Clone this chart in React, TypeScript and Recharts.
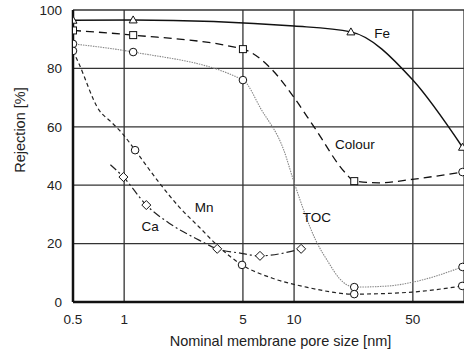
import {
  ComposedChart,
  Line,
  Scatter,
  XAxis,
  YAxis,
  CartesianGrid,
  ReferenceDot,
} from "recharts";

type Pt = { x: number; y: number };

// curve paths
const feCurve: Pt[] = [
  { x: 0.5, y: 96.5 },
  { x: 1.13, y: 96.6 },
  { x: 10, y: 94.5 },
  { x: 21.6, y: 92.5 },
  { x: 50, y: 76 },
  { x: 98, y: 53 },
];
const colourCurve: Pt[] = [
  { x: 0.5, y: 93 },
  { x: 1.13, y: 91.4 },
  { x: 5, y: 86.6 },
  { x: 7.3, y: 80 },
  { x: 10, y: 70 },
  { x: 13.1, y: 60 },
  { x: 20.2, y: 44 },
  { x: 22.6, y: 41.4 },
  { x: 31.6, y: 40.8 },
  { x: 49.5, y: 42 },
  { x: 98, y: 44.5 },
];
const tocCurve: Pt[] = [
  { x: 0.5, y: 88.4 },
  { x: 1.13, y: 85.6 },
  { x: 5, y: 76 },
  { x: 6.4, y: 66 },
  { x: 8.7, y: 52 },
  { x: 10, y: 41 },
  { x: 13.4, y: 21.2 },
  { x: 16, y: 13.4 },
  { x: 18.4, y: 8.2 },
  { x: 22.6, y: 5.1 },
  { x: 36, y: 5.5 },
  { x: 50, y: 6.8 },
  { x: 98, y: 12 },
];
const mnCurve: Pt[] = [
  { x: 0.5, y: 86 },
  { x: 0.54, y: 81.8 },
  { x: 0.71, y: 65.8 },
  { x: 0.84, y: 61.6 },
  { x: 0.97, y: 57.9 },
  { x: 1.16, y: 52 },
  { x: 1.61, y: 40.8 },
  { x: 2.11, y: 32.5 },
  { x: 2.76, y: 25.7 },
  { x: 3.62, y: 18.8 },
  { x: 4.94, y: 12.7 },
  { x: 7.4, y: 8.2 },
  { x: 11.8, y: 5.1 },
  { x: 22.6, y: 2.7 },
  { x: 49.5, y: 3.4 },
  { x: 97.6, y: 5.5 },
];
const caCurve: Pt[] = [
  { x: 0.83, y: 47 },
  { x: 0.99, y: 42.8 },
  { x: 1.35, y: 33.2 },
  { x: 1.84, y: 27 },
  { x: 2.76, y: 21.2 },
  { x: 3.53, y: 18.2 },
  { x: 4.74, y: 16.8 },
  { x: 6.3, y: 15.8 },
  { x: 11, y: 18.2 },
];

// measured points (markers)
const feMarks: Pt[] = [
  { x: 0.5, y: 96.5 },
  { x: 1.13, y: 96.6 },
  { x: 21.6, y: 92.5 },
  { x: 98, y: 53 },
];
const colourMarks: Pt[] = [
  { x: 0.5, y: 93 },
  { x: 1.13, y: 91.4 },
  { x: 5, y: 86.6 },
  { x: 22.6, y: 41.4 },
];
const colourEndMarks: Pt[] = [{ x: 98, y: 44.5 }];
const tocMarks: Pt[] = [
  { x: 0.5, y: 88.4 },
  { x: 1.13, y: 85.6 },
  { x: 5, y: 76 },
  { x: 22.6, y: 5.1 },
  { x: 98, y: 12 },
];
const mnMarks: Pt[] = [
  { x: 0.5, y: 86 },
  { x: 1.16, y: 52 },
  { x: 4.94, y: 12.7 },
  { x: 22.6, y: 2.7 },
  { x: 97.6, y: 5.5 },
];
const caMarks: Pt[] = [
  { x: 0.99, y: 42.8 },
  { x: 1.35, y: 33.2 },
  { x: 3.53, y: 18.2 },
  { x: 6.3, y: 15.8 },
  { x: 11, y: 18.2 },
];

const xTicks = [0.5, 1, 5, 10, 50];
const yTicks = [0, 20, 40, 60, 80, 100];

const seriesLabels = [
  { name: "Fe", x: 33, y: 92 },
  { name: "Colour", x: 22.8, y: 54 },
  { name: "TOC", x: 13.6, y: 29 },
  { name: "Mn", x: 2.96, y: 32.5 },
  { name: "Ca", x: 1.42, y: 26 },
];

const FONT = "'Liberation Sans', Arial, sans-serif";

const marker = (kind: string) => (props: any) => {
  const { cx, cy } = props;
  if (cx == null || cy == null) return <g />;
  const s = { fill: "#fff", stroke: "#111", strokeWidth: 1 };
  if (kind === "tri")
    return <polygon points={`${cx},${cy - 4} ${cx + 4},${cy + 3} ${cx - 4},${cy + 3}`} {...s} />;
  if (kind === "sq") return <rect x={cx - 3.5} y={cy - 3.5} width={7} height={7} {...s} />;
  if (kind === "dia")
    return <polygon points={`${cx},${cy - 4.5} ${cx + 4.5},${cy} ${cx},${cy + 4.5} ${cx - 4.5},${cy}`} {...s} />;
  return <circle cx={cx} cy={cy} r={3.8} {...s} />;
};

export default function App() {
  return (
    <div style={{ position: "absolute", left: 0, top: 0, background: "#fff" }}>
      <ComposedChart
        width={464}
        height={349}
        margin={{ top: 10, right: 0, left: 0, bottom: 0 }}
        style={{ fontFamily: FONT }}
      >
        <CartesianGrid stroke="#333" strokeWidth={1.3} vertical horizontal />
        <XAxis
          dataKey="x"
          type="number"
          scale="log"
          domain={[0.5, 100]}
          allowDataOverflow
          ticks={xTicks}
          tickLine={false}
          tickSize={0}
          tickMargin={12}
          axisLine={{ stroke: "#111", strokeWidth: 2.5 }}
          height={47}
          tick={{ fill: "#222", fontSize: 13.5 }}
          label={{
            value: "Nominal membrane pore size [nm]",
            position: "insideBottom",
            offset: 3,
            dx: 12,
            style: { fill: "#222", fontSize: 14.5 },
          }}
        />
        <YAxis
          dataKey="y"
          type="number"
          domain={[0, 100]}
          ticks={yTicks}
          tickLine={false}
          tickSize={0}
          tickMargin={11}
          axisLine={{ stroke: "#111", strokeWidth: 2.5 }}
          width={73}
          tick={{ fill: "#222", fontSize: 13.5 }}
          label={{
            value: "Rejection [%]",
            angle: -90,
            position: "insideLeft",
            offset: 20,
            dy: -26,
            style: { fill: "#222", fontSize: 14.5, textAnchor: "middle" },
          }}
        />
        <Line data={feCurve} dataKey="y" type="monotone" stroke="#111" strokeWidth={1.4} dot={false} isAnimationActive={false} />
        <Line data={colourCurve} dataKey="y" type="monotone" stroke="#111" strokeWidth={1.3} strokeDasharray="8 5" dot={false} isAnimationActive={false} />
        <Line data={tocCurve} dataKey="y" type="monotone" stroke="#888" strokeWidth={1.1} strokeDasharray="1.5 1" dot={false} isAnimationActive={false} />
        <Line data={mnCurve} dataKey="y" type="monotone" stroke="#222" strokeWidth={1.2} strokeDasharray="4 3" dot={false} isAnimationActive={false} />
        <Line data={caCurve} dataKey="y" type="monotone" stroke="#222" strokeWidth={1.2} strokeDasharray="8 3 2 3" dot={false} isAnimationActive={false} />
        <Scatter data={feMarks} dataKey="y" shape={marker("tri")} isAnimationActive={false} />
        <Scatter data={colourMarks} dataKey="y" shape={marker("sq")} isAnimationActive={false} />
        <Scatter data={colourEndMarks} dataKey="y" shape={marker("circ")} isAnimationActive={false} />
        <Scatter data={tocMarks} dataKey="y" shape={marker("circ")} isAnimationActive={false} />
        <Scatter data={mnMarks} dataKey="y" shape={marker("circ")} isAnimationActive={false} />
        <Scatter data={caMarks} dataKey="y" shape={marker("dia")} isAnimationActive={false} />
        {seriesLabels.map((l) => (
          <ReferenceDot
            key={l.name}
            x={l.x}
            y={l.y}
            r={0}
            fill="none"
            stroke="none"
            label={{ value: l.name, position: "center", fill: "#111", fontSize: 13.5 }}
          />
        ))}
      </ComposedChart>
    </div>
  );
}
